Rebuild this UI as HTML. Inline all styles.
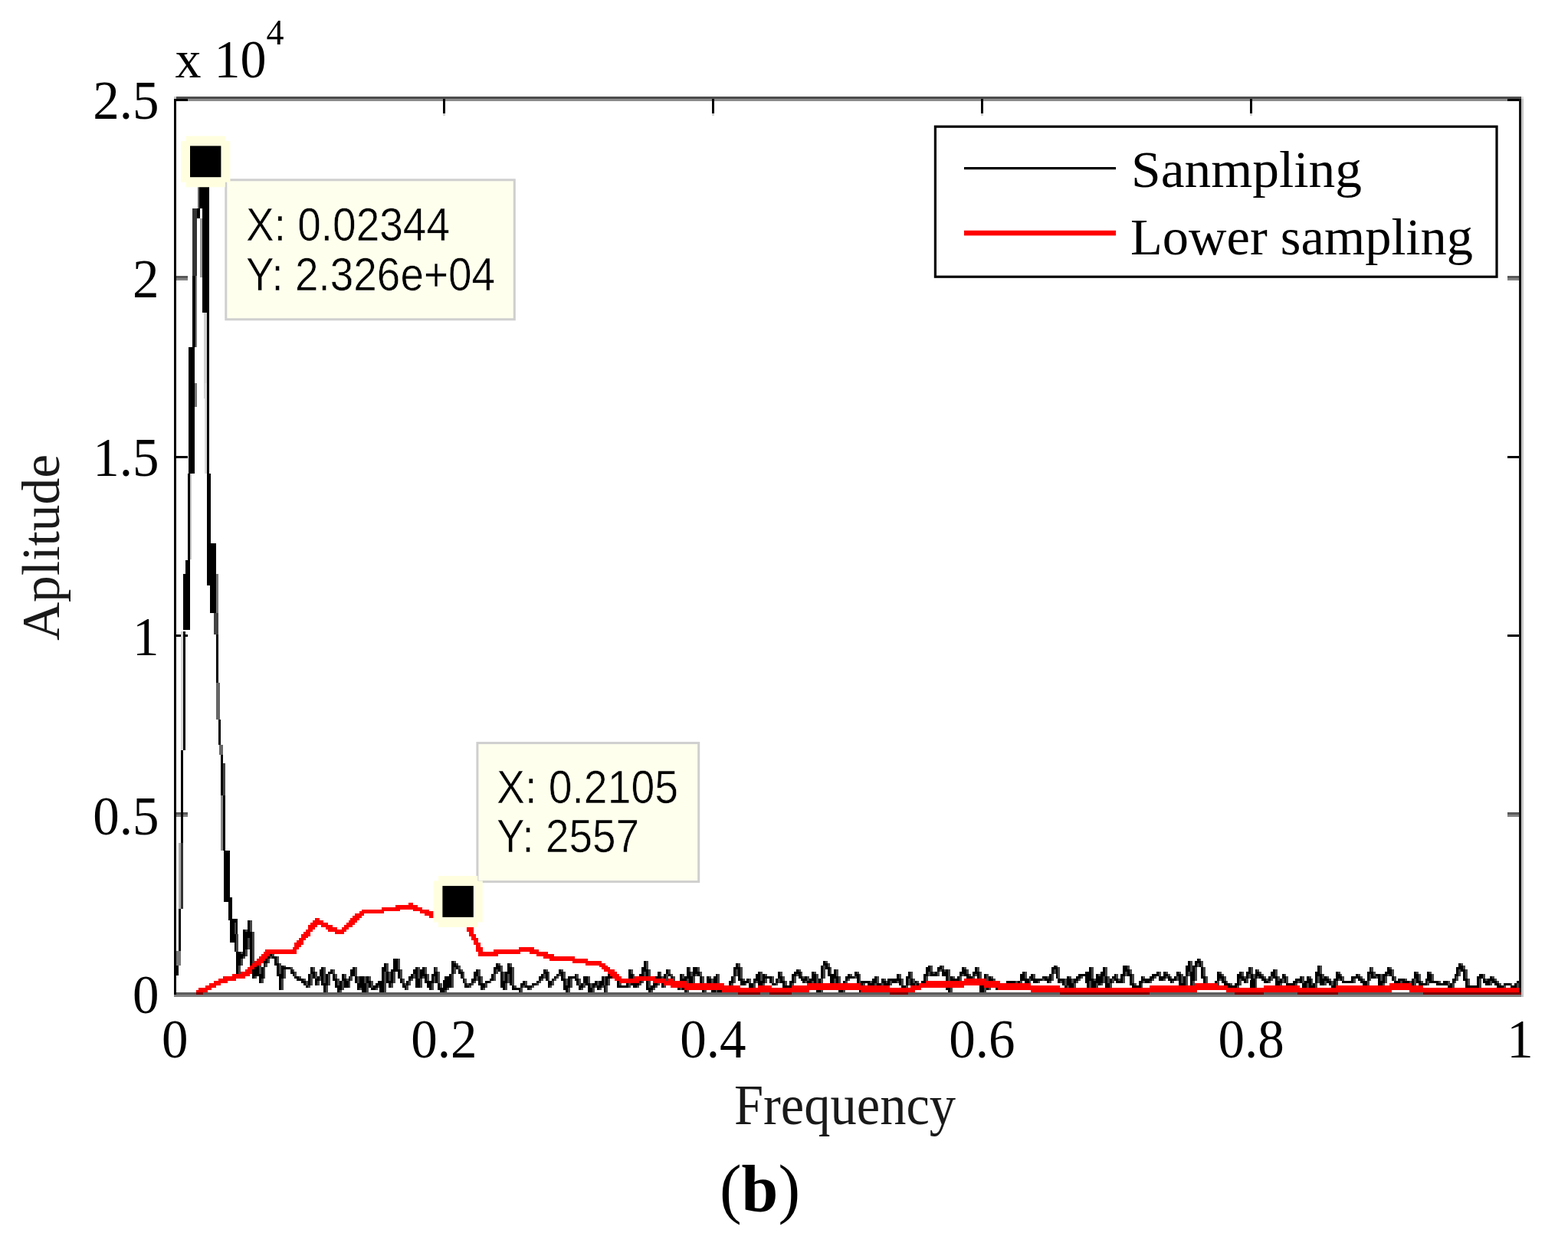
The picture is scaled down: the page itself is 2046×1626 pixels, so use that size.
<!DOCTYPE html>
<html lang="en"><head><meta charset="utf-8"><title>Spectrum (b)</title>
<style>
html,body{margin:0;padding:0;background:#fff;}
body{width:2046px;height:1626px;overflow:hidden;}
svg{display:block;}
.serif{font-family:"Liberation Serif",serif;}
.sans{font-family:"Liberation Sans",sans-serif;}
</style></head><body>
<svg width="2046" height="1626" viewBox="0 0 2046 1626">
<rect x="0" y="0" width="2046" height="1626" fill="#ffffff"/>
<g shape-rendering="crispEdges">
<rect x="577.8" y="132" width="3" height="15.7" fill="#000"/>
<rect x="577.8" y="147.7" width="3" height="2.9" fill="#d0d0d0"/>
<rect x="577.8" y="1279" width="3" height="15.6" fill="#000"/>
<rect x="928.9" y="132" width="3" height="15.7" fill="#000"/>
<rect x="928.9" y="147.7" width="3" height="2.9" fill="#d0d0d0"/>
<rect x="928.9" y="1279" width="3" height="15.6" fill="#000"/>
<rect x="1279.9" y="132" width="3" height="15.7" fill="#000"/>
<rect x="1279.9" y="147.7" width="3" height="2.9" fill="#d0d0d0"/>
<rect x="1279.9" y="1279" width="3" height="15.6" fill="#000"/>
<rect x="1631.0" y="132" width="3" height="15.7" fill="#000"/>
<rect x="1631.0" y="147.7" width="3" height="2.9" fill="#d0d0d0"/>
<rect x="1631.0" y="1279" width="3" height="15.6" fill="#000"/>
<rect x="230" y="360" width="15" height="3" fill="#595959"/>
<rect x="230" y="363" width="15" height="3" fill="#838383"/>
<rect x="1967" y="360" width="15" height="3" fill="#595959"/>
<rect x="1967" y="363" width="15" height="3" fill="#838383"/>
<rect x="230" y="595" width="15" height="3" fill="#000"/>
<rect x="1967" y="595" width="15" height="3" fill="#000"/>
<rect x="230" y="828" width="15" height="3" fill="#000"/>
<rect x="1967" y="828" width="15" height="3" fill="#000"/>
<rect x="230" y="1060" width="15" height="3" fill="#595959"/>
<rect x="230" y="1063" width="15" height="3" fill="#838383"/>
<rect x="1967" y="1060" width="15" height="3" fill="#595959"/>
<rect x="1967" y="1063" width="15" height="3" fill="#838383"/>
</g>
<g shape-rendering="crispEdges">
<rect x="229.2" y="1259.9" width="3.7" height="13.1" fill="#000"/>
<rect x="230.1" y="1241.4" width="5.6" height="18.6" fill="#777"/>
<rect x="232.9" y="1186.0" width="2.8" height="55.4" fill="#000"/>
<rect x="233.0" y="1100.3" width="3.0" height="85.9" fill="#aaaaaa"/>
<rect x="236.0" y="1100.3" width="3.0" height="85.9" fill="#333"/>
<rect x="236.0" y="979.0" width="3.0" height="121.3" fill="#000"/>
<rect x="238.8" y="824.0" width="3.0" height="155.0" fill="#000"/>
<rect x="235.8" y="824.0" width="3.0" height="155.0" fill="#d8d8d8"/>
<rect x="239.4" y="749.0" width="8.3" height="73.4" fill="#000"/>
<rect x="242.1" y="730.6" width="5.6" height="18.4" fill="#000"/>
<rect x="245.3" y="618.0" width="2.7" height="112.6" fill="#000"/>
<rect x="248.0" y="618.0" width="2.4" height="112.0" fill="#c8c8c8"/>
<rect x="245.8" y="452.5" width="8.3" height="165.5" fill="#000"/>
<rect x="254.1" y="500.0" width="2.8" height="31.0" fill="#777"/>
<rect x="251.4" y="360.0" width="3.1" height="92.5" fill="#000"/>
<rect x="254.5" y="360.0" width="2.4" height="92.5" fill="#777"/>
<rect x="251.4" y="271.7" width="5.5" height="88.3" fill="#333"/>
<rect x="256.9" y="271.7" width="3.7" height="12.9" fill="#000"/>
<rect x="260.6" y="284.6" width="3.3" height="77.4" fill="#999"/>
<rect x="259.7" y="243.0" width="12.9" height="28.7" fill="#000"/>
<rect x="263.9" y="271.7" width="8.7" height="136.5" fill="#000"/>
<rect x="257.6" y="243.0" width="2.6" height="28.7" fill="#666"/>
<rect x="269.8" y="408.0" width="2.8" height="112.0" fill="#000"/>
<rect x="266.2" y="408.0" width="3.6" height="112.0" fill="#d0d0d0"/>
<rect x="269.8" y="500.0" width="3.3" height="118.0" fill="#000"/>
<rect x="267.0" y="500.0" width="2.8" height="118.0" fill="#d8d8d8"/>
<rect x="269.8" y="618.0" width="5.6" height="90.5" fill="#000"/>
<rect x="269.8" y="708.5" width="12.0" height="55.3" fill="#000"/>
<rect x="273.5" y="763.8" width="8.3" height="36.5" fill="#000"/>
<rect x="281.8" y="749.0" width="2.8" height="51.0" fill="#777"/>
<rect x="279.0" y="800.0" width="5.6" height="28.0" fill="#444"/>
<rect x="281.8" y="828.0" width="2.8" height="62.7" fill="#000"/>
<rect x="282.2" y="890.7" width="5.1" height="48.0" fill="#666"/>
<rect x="284.9" y="938.7" width="3.0" height="33.2" fill="#000"/>
<rect x="285.5" y="971.9" width="5.0" height="12.9" fill="#666"/>
<rect x="288.3" y="984.8" width="2.9" height="53.5" fill="#000"/>
<rect x="291.2" y="996.0" width="2.6" height="42.3" fill="#444"/>
<rect x="288.3" y="1038.3" width="2.9" height="71.7" fill="#888"/>
<rect x="291.2" y="1038.3" width="3.0" height="71.7" fill="#000"/>
<rect x="292.0" y="1110.4" width="8.3" height="66.4" fill="#000"/>
<rect x="297.5" y="1171.0" width="5.5" height="29.8" fill="#000"/>
<rect x="300.3" y="1199.0" width="9.2" height="31.0" fill="#000"/>
</g>
<path fill="#454545" shape-rendering="crispEdges" d="M306 1204h2v15h-2zM308 1219h3v23h-3zM311 1260h3v11h-3zM314 1242h3v3h-3zM314 1251h3v9h-3zM317 1248h3v3h-3zM320 1213h3v3h-3zM320 1239h3v9h-3zM323 1224h3v15h-3zM326 1201h3v15h-3zM329 1216h3v44h-3zM332 1260h3v2h-3zM332 1274h3v3h-3zM338 1260h3v11h-3zM341 1277h3v6h-3zM344 1262h2v15h-2zM346 1257h3v5h-3zM349 1251h3v6h-3zM352 1248h3v3h-3zM355 1245h3v3h-3zM361 1248h3v9h-3zM364 1257h3v14h-3zM367 1277h3v15h-3zM370 1260h3v2h-3zM370 1265h3v12h-3zM379 1262h3v3h-3zM382 1265h2v3h-2zM384 1268h3v6h-3zM390 1274h3v3h-3zM396 1277h3v3h-3zM399 1280h3v6h-3zM402 1286h3v3h-3zM405 1271h3v15h-3zM408 1262h3v6h-3zM411 1268h3v9h-3zM414 1280h3v6h-3zM417 1274h2v6h-2zM422 1262h3v21h-3zM425 1286h3v12h-3zM428 1271h3v15h-3zM434 1265h3v6h-3zM437 1271h3v6h-3zM440 1277h3v9h-3zM443 1292h3v3h-3zM446 1280h3v12h-3zM449 1271h3v6h-3zM452 1277h3v3h-3zM455 1280h2v9h-2zM457 1274h3v6h-3zM463 1262h3v12h-3zM466 1274h3v9h-3zM469 1289h3v3h-3zM475 1274h3v9h-3zM478 1283h3v15h-3zM481 1274h3v6h-3zM484 1280h3v9h-3zM490 1289h3v3h-3zM493 1286h2v3h-2zM498 1295h3v3h-3zM501 1268h3v27h-3zM504 1257h3v11h-3zM507 1268h3v12h-3zM510 1283h3v6h-3zM513 1268h3v15h-3zM519 1251h3v14h-3zM522 1265h3v12h-3zM525 1277h3v6h-3zM528 1283h2v3h-2zM530 1286h3v6h-3zM533 1280h3v6h-3zM536 1277h3v3h-3zM539 1271h3v6h-3zM545 1262h3v15h-3zM548 1277h3v12h-3zM551 1274h3v3h-3zM554 1262h3v9h-3zM557 1271h3v9h-3zM563 1283h3v9h-3zM566 1274h2v9h-2zM568 1262h3v6h-3zM571 1268h3v15h-3zM574 1283h3v6h-3zM580 1292h3v6h-3zM583 1289h3v3h-3zM589 1271h3v18h-3zM592 1254h3v3h-3zM592 1262h3v9h-3zM595 1257h3v3h-3zM598 1260h3v5h-3zM601 1265h3v3h-3zM604 1268h2v9h-2zM606 1277h3v6h-3zM609 1283h3v3h-3zM612 1286h3v3h-3zM615 1283h3v3h-3zM618 1280h3v3h-3zM621 1274h3v6h-3zM624 1265h3v9h-3zM627 1274h3v9h-3zM630 1289h3v3h-3zM633 1283h3v6h-3zM639 1280h2v3h-2zM644 1271h3v9h-3zM647 1265h3v6h-3zM650 1257h3v3h-3zM653 1260h3v8h-3zM656 1268h3v12h-3zM659 1283h3v9h-3zM662 1271h3v12h-3zM665 1257h3v5h-3zM668 1262h3v24h-3zM671 1286h3v3h-3zM679 1289h3v6h-3zM682 1286h3v3h-3zM685 1280h3v6h-3zM691 1289h3v3h-3zM694 1286h3v3h-3zM700 1283h3v3h-3zM703 1280h3v3h-3zM706 1277h3v3h-3zM709 1271h3v6h-3zM712 1265h3v3h-3zM715 1268h2v12h-2zM717 1286h3v3h-3zM720 1280h3v6h-3zM723 1277h3v3h-3zM726 1274h3v3h-3zM729 1271h3v3h-3zM732 1265h3v3h-3zM735 1268h3v9h-3zM738 1277h3v9h-3zM741 1289h3v9h-3zM744 1277h3v12h-3zM752 1271h3v6h-3zM755 1277h3v9h-3zM758 1289h3v3h-3zM761 1283h3v6h-3zM767 1274h3v9h-3zM770 1283h3v6h-3zM770 1295h3v3h-3zM773 1289h3v6h-3zM776 1286h3v3h-3zM779 1280h3v6h-3zM782 1289h3v3h-3zM785 1286h3v3h-3zM788 1274h2v12h-2zM790 1286h3v9h-3zM793 1277h3v9h-3zM796 1271h3v3h-3zM808 1274h3v12h-3zM820 1277h3v12h-3zM823 1265h3v6h-3zM826 1271h2v12h-2zM831 1286h3v3h-3zM834 1283h3v3h-3zM837 1274h3v9h-3zM840 1268h3v6h-3zM843 1254h3v11h-3zM846 1265h3v24h-3zM849 1292h3v3h-3zM852 1289h3v3h-3zM855 1286h3v3h-3zM858 1277h3v9h-3zM861 1268h2v6h-2zM863 1274h3v9h-3zM866 1283h3v6h-3zM869 1271h3v12h-3zM872 1265h3v6h-3zM875 1271h3v3h-3zM878 1274h3v6h-3zM881 1280h3v6h-3zM887 1283h3v9h-3zM890 1271h3v6h-3zM896 1277h3v18h-3zM899 1262h2v6h-2zM901 1268h3v6h-3zM904 1274h3v9h-3zM907 1271h3v3h-3zM910 1262h3v6h-3zM913 1268h3v6h-3zM916 1274h3v12h-3zM919 1292h3v3h-3zM922 1283h3v9h-3zM925 1274h3v3h-3zM928 1277h3v12h-3zM931 1295h3v3h-3zM934 1286h2v9h-2zM936 1271h3v12h-3zM939 1283h3v9h-3zM951 1289h3v6h-3zM954 1283h3v6h-3zM957 1274h3v9h-3zM960 1265h3v9h-3zM963 1257h3v5h-3zM966 1262h3v15h-3zM969 1277h3v3h-3zM972 1283h2v3h-2zM977 1277h3v6h-3zM983 1283h3v6h-3zM986 1280h3v3h-3zM992 1268h3v12h-3zM995 1283h3v15h-3zM998 1271h3v3h-3zM998 1277h3v6h-3zM1007 1274h3v9h-3zM1012 1283h3v3h-3zM1015 1277h3v6h-3zM1018 1268h3v6h-3zM1021 1274h3v6h-3zM1024 1280h3v6h-3zM1033 1283h3v6h-3zM1036 1274h3v9h-3zM1039 1271h3v3h-3zM1042 1265h3v3h-3zM1045 1268h2v6h-2zM1047 1274h3v3h-3zM1050 1280h3v3h-3zM1053 1274h3v6h-3zM1059 1280h3v6h-3zM1062 1268h3v3h-3zM1065 1271h3v12h-3zM1071 1277h3v21h-3zM1074 1260h3v17h-3zM1077 1254h3v3h-3zM1080 1257h3v5h-3zM1083 1262h2v9h-2zM1088 1277h3v6h-3zM1091 1265h3v9h-3zM1094 1274h3v12h-3zM1097 1295h3v3h-3zM1100 1289h3v6h-3zM1103 1280h3v9h-3zM1106 1277h3v3h-3zM1109 1271h3v3h-3zM1115 1274h3v3h-3zM1118 1268h3v3h-3zM1121 1271h2v15h-2zM1123 1289h3v6h-3zM1126 1283h3v6h-3zM1135 1280h3v3h-3zM1141 1283h3v3h-3zM1144 1274h3v9h-3zM1150 1283h3v9h-3zM1153 1277h3v3h-3zM1156 1280h2v3h-2zM1158 1286h3v3h-3zM1161 1280h3v6h-3zM1170 1280h3v3h-3zM1173 1271h3v6h-3zM1176 1277h3v9h-3zM1182 1286h3v6h-3zM1185 1277h3v9h-3zM1188 1268h3v9h-3zM1191 1277h3v6h-3zM1194 1283h2v6h-2zM1196 1280h3v3h-3zM1199 1283h3v3h-3zM1205 1283h3v6h-3zM1208 1274h3v9h-3zM1211 1268h3v6h-3zM1214 1260h3v8h-3zM1217 1268h3v3h-3zM1223 1268h3v6h-3zM1226 1265h3v3h-3zM1229 1260h3v5h-3zM1232 1265h2v3h-2zM1237 1265h3v18h-3zM1240 1286h3v12h-3zM1243 1274h3v3h-3zM1243 1280h3v6h-3zM1252 1274h3v6h-3zM1255 1271h3v3h-3zM1258 1262h3v3h-3zM1261 1265h3v6h-3zM1264 1271h3v3h-3zM1269 1274h3v3h-3zM1272 1271h3v3h-3zM1275 1262h3v6h-3zM1278 1268h3v12h-3zM1281 1295h3v3h-3zM1284 1289h3v6h-3zM1287 1271h3v12h-3zM1290 1286h3v6h-3zM1293 1274h3v3h-3zM1296 1277h3v6h-3zM1299 1283h3v3h-3zM1302 1286h3v3h-3zM1310 1289h3v3h-3zM1313 1286h3v3h-3zM1316 1283h3v3h-3zM1325 1280h3v3h-3zM1331 1280h3v6h-3zM1337 1268h3v9h-3zM1343 1277h2v6h-2zM1348 1271h3v6h-3zM1354 1280h3v3h-3zM1360 1277h3v3h-3zM1366 1274h3v3h-3zM1369 1280h3v3h-3zM1372 1271h3v9h-3zM1375 1265h3v6h-3zM1378 1260h2v2h-2zM1380 1262h3v15h-3zM1383 1280h3v3h-3zM1389 1277h3v9h-3zM1392 1286h3v6h-3zM1395 1274h3v3h-3zM1398 1277h3v6h-3zM1398 1289h3v3h-3zM1401 1283h3v6h-3zM1404 1280h3v3h-3zM1407 1277h3v3h-3zM1410 1274h3v3h-3zM1421 1280h3v9h-3zM1424 1262h3v15h-3zM1427 1277h3v3h-3zM1427 1289h3v3h-3zM1430 1283h3v6h-3zM1433 1271h3v3h-3zM1436 1283h3v3h-3zM1439 1274h3v9h-3zM1442 1262h3v12h-3zM1445 1274h3v9h-3zM1448 1283h3v6h-3zM1451 1277h3v6h-3zM1456 1271h3v6h-3zM1459 1277h3v3h-3zM1465 1274h3v9h-3zM1468 1268h3v6h-3zM1471 1260h3v5h-3zM1474 1265h3v6h-3zM1477 1271h3v12h-3zM1480 1283h3v3h-3zM1489 1283h2v6h-2zM1491 1274h3v3h-3zM1491 1280h3v3h-3zM1500 1280h3v3h-3zM1503 1277h3v3h-3zM1506 1274h3v3h-3zM1512 1268h3v6h-3zM1518 1277h3v3h-3zM1521 1268h3v3h-3zM1521 1274h3v3h-3zM1524 1271h3v3h-3zM1527 1274h2v3h-2zM1529 1280h3v3h-3zM1535 1274h3v6h-3zM1538 1268h3v3h-3zM1541 1271h3v12h-3zM1544 1286h3v3h-3zM1547 1274h3v12h-3zM1550 1268h3v6h-3zM1553 1254h3v14h-3zM1556 1280h3v6h-3zM1559 1262h3v18h-3zM1562 1257h3v5h-3zM1565 1251h2v3h-2zM1567 1254h3v8h-3zM1570 1262h3v12h-3zM1573 1274h3v9h-3zM1576 1283h3v3h-3zM1588 1280h3v9h-3zM1591 1268h3v3h-3zM1591 1277h3v3h-3zM1594 1271h3v3h-3zM1597 1274h3v6h-3zM1600 1280h2v3h-2zM1605 1283h3v3h-3zM1614 1286h3v6h-3zM1617 1277h3v9h-3zM1620 1268h3v6h-3zM1623 1274h3v3h-3zM1626 1277h3v6h-3zM1629 1271h3v6h-3zM1632 1262h3v9h-3zM1635 1271h3v6h-3zM1638 1277h2v12h-2zM1640 1265h3v3h-3zM1640 1274h3v3h-3zM1643 1268h3v3h-3zM1646 1271h3v3h-3zM1649 1274h3v3h-3zM1652 1277h3v3h-3zM1655 1280h3v3h-3zM1658 1274h3v6h-3zM1664 1265h3v9h-3zM1667 1274h3v6h-3zM1670 1283h3v3h-3zM1673 1277h3v6h-3zM1676 1271h2v3h-2zM1678 1274h3v9h-3zM1684 1286h3v3h-3zM1690 1283h3v3h-3zM1693 1280h3v3h-3zM1699 1274h3v9h-3zM1702 1289h3v3h-3zM1705 1283h3v6h-3zM1708 1274h3v3h-3zM1711 1277h2v9h-2zM1713 1289h3v3h-3zM1716 1283h3v6h-3zM1719 1274h3v9h-3zM1722 1260h3v11h-3zM1725 1271h3v6h-3zM1728 1280h3v6h-3zM1731 1274h3v3h-3zM1734 1277h3v3h-3zM1737 1280h3v6h-3zM1743 1280h3v9h-3zM1746 1268h3v3h-3zM1746 1277h3v3h-3zM1749 1271h2v3h-2zM1751 1274h3v6h-3zM1766 1277h3v6h-3zM1772 1271h3v3h-3zM1775 1274h3v3h-3zM1778 1277h3v3h-3zM1784 1280h3v6h-3zM1787 1271h2v9h-2zM1789 1262h3v6h-3zM1792 1268h3v6h-3zM1795 1274h3v3h-3zM1801 1271h3v9h-3zM1804 1283h3v6h-3zM1807 1274h3v9h-3zM1810 1271h3v3h-3zM1813 1262h3v3h-3zM1816 1265h3v9h-3zM1819 1274h3v6h-3zM1827 1280h3v3h-3zM1833 1277h3v3h-3zM1839 1280h3v3h-3zM1845 1277h3v9h-3zM1848 1268h3v3h-3zM1851 1271h3v9h-3zM1854 1280h3v3h-3zM1862 1280h3v6h-3zM1865 1268h3v3h-3zM1868 1271h3v9h-3zM1877 1280h3v3h-3zM1889 1280h3v6h-3zM1892 1289h3v3h-3zM1895 1283h3v6h-3zM1898 1280h2v3h-2zM1900 1274h3v6h-3zM1903 1265h3v9h-3zM1906 1257h3v3h-3zM1909 1260h3v5h-3zM1912 1265h3v12h-3zM1915 1277h3v9h-3zM1930 1277h3v12h-3zM1935 1271h3v6h-3zM1938 1277h3v3h-3zM1944 1280h3v6h-3zM1947 1274h3v3h-3zM1950 1277h3v3h-3zM1953 1280h3v3h-3zM1956 1283h3v3h-3zM1962 1286h3v3h-3zM1971 1283h2v3h-2zM1979 1283h3v6h-3zM1985 1280h3v3h-3z"/>
<path fill="#000" shape-rendering="crispEdges" d="M303 1204h3v18h-3zM306 1219h2v23h-2zM308 1242h3v29h-3zM311 1242h3v18h-3zM314 1245h3v6h-3zM317 1213h3v35h-3zM320 1216h3v23h-3zM323 1201h3v23h-3zM326 1216h3v44h-3zM329 1260h3v17h-3zM332 1262h3v12h-3zM335 1260h3v14h-3zM338 1271h3v12h-3zM341 1262h3v15h-3zM344 1254h2v8h-2zM346 1251h3v6h-3zM349 1245h3v6h-3zM352 1245h3v3h-3zM355 1248h3v3h-3zM358 1248h3v12h-3zM361 1257h3v17h-3zM364 1271h3v21h-3zM367 1260h3v17h-3zM370 1262h3v3h-3zM373 1262h3v3h-3zM376 1262h3v3h-3zM379 1265h3v6h-3zM382 1268h2v6h-2zM384 1274h3v3h-3zM387 1274h3v6h-3zM390 1277h3v3h-3zM393 1277h3v6h-3zM396 1280h3v6h-3zM399 1286h3v3h-3zM402 1271h3v15h-3zM405 1262h3v9h-3zM408 1268h3v9h-3zM411 1277h3v9h-3zM414 1274h3v6h-3zM417 1265h2v9h-2zM419 1262h3v24h-3zM422 1283h3v15h-3zM425 1271h3v15h-3zM428 1268h3v3h-3zM431 1265h3v6h-3zM434 1271h3v9h-3zM437 1277h3v12h-3zM440 1286h3v9h-3zM443 1280h3v12h-3zM446 1271h3v9h-3zM449 1277h3v12h-3zM452 1280h3v9h-3zM455 1274h2v6h-2zM457 1265h3v9h-3zM460 1262h3v12h-3zM463 1274h3v9h-3zM466 1283h3v9h-3zM469 1274h3v15h-3zM472 1274h3v21h-3zM475 1283h3v15h-3zM478 1274h3v9h-3zM481 1280h3v9h-3zM484 1289h3v3h-3zM487 1286h3v6h-3zM490 1283h3v6h-3zM493 1280h2v6h-2zM495 1280h3v18h-3zM498 1262h3v33h-3zM501 1257h3v11h-3zM504 1268h3v15h-3zM507 1280h3v9h-3zM510 1265h3v18h-3zM513 1251h3v17h-3zM516 1251h3v17h-3zM519 1265h3v12h-3zM522 1277h3v6h-3zM525 1283h3v6h-3zM528 1286h2v6h-2zM530 1280h3v6h-3zM533 1274h3v6h-3zM536 1271h3v6h-3zM539 1265h3v6h-3zM542 1262h3v27h-3zM545 1277h3v12h-3zM548 1265h3v12h-3zM551 1262h3v12h-3zM554 1271h3v12h-3zM557 1280h3v9h-3zM560 1280h3v12h-3zM563 1271h3v12h-3zM566 1262h2v12h-2zM568 1268h3v15h-3zM571 1283h3v9h-3zM574 1289h3v6h-3zM577 1289h3v9h-3zM580 1274h3v18h-3zM583 1274h3v15h-3zM586 1271h3v18h-3zM589 1254h3v17h-3zM592 1257h3v5h-3zM595 1260h3v5h-3zM598 1265h3v6h-3zM601 1268h3v9h-3zM604 1277h2v6h-2zM606 1283h3v6h-3zM609 1286h3v3h-3zM612 1283h3v3h-3zM615 1277h3v6h-3zM618 1268h3v12h-3zM621 1265h3v9h-3zM624 1274h3v12h-3zM627 1283h3v9h-3zM630 1283h3v6h-3zM633 1280h3v3h-3zM636 1280h3v3h-3zM639 1277h2v3h-2zM641 1271h3v9h-3zM644 1262h3v9h-3zM647 1257h3v8h-3zM650 1260h3v8h-3zM653 1268h3v21h-3zM656 1280h3v12h-3zM659 1268h3v15h-3zM662 1257h3v14h-3zM665 1262h3v24h-3zM668 1286h3v6h-3zM671 1289h3v3h-3zM674 1289h3v3h-3zM677 1289h2v6h-2zM679 1283h3v6h-3zM682 1280h3v6h-3zM685 1286h3v3h-3zM688 1286h3v6h-3zM691 1286h3v3h-3zM694 1283h3v3h-3zM697 1283h3v3h-3zM700 1280h3v3h-3zM703 1274h3v6h-3zM706 1271h3v6h-3zM709 1265h3v6h-3zM712 1268h3v12h-3zM715 1280h2v9h-2zM717 1280h3v6h-3zM720 1277h3v3h-3zM723 1274h3v3h-3zM726 1271h3v3h-3zM729 1265h3v6h-3zM732 1268h3v12h-3zM735 1277h3v15h-3zM738 1286h3v12h-3zM741 1274h3v15h-3zM744 1274h3v3h-3zM747 1274h3v3h-3zM750 1271h2v9h-2zM752 1277h3v9h-3zM755 1286h3v6h-3zM758 1283h3v6h-3zM761 1274h3v9h-3zM764 1274h3v12h-3zM767 1283h3v15h-3zM770 1289h3v6h-3zM773 1283h3v6h-3zM776 1280h3v6h-3zM779 1286h3v6h-3zM782 1280h3v9h-3zM785 1274h3v12h-3zM788 1286h2v9h-2zM790 1274h3v12h-3zM793 1271h3v6h-3zM796 1274h3v3h-3zM799 1274h3v3h-3zM802 1274h3v3h-3zM805 1274h3v15h-3zM808 1286h3v3h-3zM811 1286h3v3h-3zM814 1286h3v3h-3zM817 1277h3v12h-3zM820 1265h3v12h-3zM823 1271h3v15h-3zM826 1283h2v6h-2zM828 1283h3v6h-3zM831 1280h3v6h-3zM834 1271h3v12h-3zM837 1262h3v12h-3zM840 1254h3v14h-3zM843 1265h3v27h-3zM846 1289h3v6h-3zM849 1286h3v6h-3zM852 1283h3v6h-3zM855 1274h3v12h-3zM858 1268h3v9h-3zM861 1274h2v9h-2zM863 1283h3v6h-3zM866 1271h3v12h-3zM869 1265h3v6h-3zM872 1271h3v3h-3zM875 1274h3v6h-3zM878 1280h3v6h-3zM881 1286h3v3h-3zM884 1280h3v12h-3zM887 1271h3v12h-3zM890 1277h3v15h-3zM893 1274h3v21h-3zM896 1262h3v15h-3zM899 1268h2v15h-2zM901 1274h3v9h-3zM904 1262h3v12h-3zM907 1262h3v9h-3zM910 1268h3v6h-3zM913 1274h3v12h-3zM916 1286h3v9h-3zM919 1283h3v9h-3zM922 1274h3v9h-3zM925 1277h3v12h-3zM928 1289h3v9h-3zM931 1274h3v21h-3zM934 1271h2v15h-2zM936 1283h3v12h-3zM939 1292h3v3h-3zM942 1292h3v3h-3zM945 1292h3v3h-3zM948 1289h3v6h-3zM951 1280h3v9h-3zM954 1274h3v9h-3zM957 1262h3v12h-3zM960 1257h3v8h-3zM963 1262h3v18h-3zM966 1277h3v9h-3zM969 1280h3v6h-3zM972 1280h2v3h-2zM974 1277h3v6h-3zM977 1283h3v6h-3zM980 1283h3v6h-3zM983 1277h3v6h-3zM986 1271h3v9h-3zM989 1268h3v27h-3zM992 1280h3v18h-3zM995 1271h3v12h-3zM998 1274h3v3h-3zM1001 1274h3v3h-3zM1004 1274h3v9h-3zM1007 1283h3v3h-3zM1010 1283h2v3h-2zM1012 1277h3v6h-3zM1015 1268h3v9h-3zM1018 1274h3v9h-3zM1021 1280h3v9h-3zM1024 1286h3v3h-3zM1027 1286h3v3h-3zM1030 1280h3v9h-3zM1033 1271h3v12h-3zM1036 1268h3v6h-3zM1039 1265h3v6h-3zM1042 1268h3v9h-3zM1045 1274h2v6h-2zM1047 1277h3v6h-3zM1050 1274h3v6h-3zM1053 1280h3v6h-3zM1056 1277h3v9h-3zM1059 1268h3v12h-3zM1062 1271h3v12h-3zM1065 1283h3v12h-3zM1068 1277h3v21h-3zM1071 1260h3v17h-3zM1074 1254h3v6h-3zM1077 1257h3v8h-3zM1080 1262h3v12h-3zM1083 1271h2v12h-2zM1085 1271h3v12h-3zM1088 1265h3v12h-3zM1091 1274h3v15h-3zM1094 1286h3v12h-3zM1097 1286h3v9h-3zM1100 1280h3v9h-3zM1103 1274h3v6h-3zM1106 1271h3v6h-3zM1109 1274h3v3h-3zM1112 1274h3v3h-3zM1115 1268h3v6h-3zM1118 1271h3v18h-3zM1121 1286h2v9h-2zM1123 1280h3v9h-3zM1126 1280h3v3h-3zM1129 1280h3v3h-3zM1132 1280h3v6h-3zM1135 1283h3v3h-3zM1138 1277h3v9h-3zM1141 1274h3v9h-3zM1144 1283h3v6h-3zM1147 1283h3v9h-3zM1150 1277h3v6h-3zM1153 1280h3v9h-3zM1156 1283h2v6h-2zM1158 1277h3v9h-3zM1161 1277h3v3h-3zM1164 1277h3v6h-3zM1167 1277h3v6h-3zM1170 1271h3v9h-3zM1173 1277h3v9h-3zM1176 1286h3v3h-3zM1179 1286h3v6h-3zM1182 1274h3v12h-3zM1185 1268h3v9h-3zM1188 1277h3v9h-3zM1191 1283h3v6h-3zM1194 1280h2v3h-2zM1196 1283h3v6h-3zM1199 1286h3v3h-3zM1202 1280h3v9h-3zM1205 1271h3v12h-3zM1208 1262h3v12h-3zM1211 1260h3v8h-3zM1214 1268h3v6h-3zM1217 1271h3v3h-3zM1220 1268h3v6h-3zM1223 1262h3v6h-3zM1226 1260h3v5h-3zM1229 1265h3v9h-3zM1232 1268h2v6h-2zM1234 1265h3v27h-3zM1237 1283h3v15h-3zM1240 1274h3v12h-3zM1243 1277h3v3h-3zM1246 1277h3v3h-3zM1249 1274h3v6h-3zM1252 1268h3v6h-3zM1255 1262h3v9h-3zM1258 1265h3v9h-3zM1261 1271h3v6h-3zM1264 1274h3v3h-3zM1267 1274h2v3h-2zM1269 1268h3v6h-3zM1272 1262h3v9h-3zM1275 1268h3v12h-3zM1278 1280h3v18h-3zM1281 1277h3v18h-3zM1284 1271h3v18h-3zM1287 1283h3v9h-3zM1290 1274h3v12h-3zM1293 1277h3v9h-3zM1296 1283h3v6h-3zM1299 1286h3v6h-3zM1302 1289h3v3h-3zM1305 1289h2v3h-2zM1307 1286h3v6h-3zM1310 1283h3v6h-3zM1313 1280h3v6h-3zM1316 1280h3v3h-3zM1319 1280h3v3h-3zM1322 1280h3v3h-3zM1325 1283h3v3h-3zM1328 1280h3v6h-3zM1331 1271h3v9h-3zM1334 1268h3v12h-3zM1337 1277h3v6h-3zM1340 1277h3v6h-3zM1343 1274h2v3h-2zM1345 1271h3v9h-3zM1348 1277h3v6h-3zM1351 1277h3v6h-3zM1354 1277h3v3h-3zM1357 1277h3v3h-3zM1360 1274h3v3h-3zM1363 1274h3v6h-3zM1366 1277h3v6h-3zM1369 1271h3v9h-3zM1372 1262h3v9h-3zM1375 1260h3v5h-3zM1378 1262h2v15h-2zM1380 1277h3v6h-3zM1383 1277h3v3h-3zM1386 1277h3v9h-3zM1389 1286h3v6h-3zM1392 1274h3v12h-3zM1395 1277h3v15h-3zM1398 1283h3v6h-3zM1401 1277h3v6h-3zM1404 1274h3v6h-3zM1407 1271h3v6h-3zM1410 1271h3v3h-3zM1413 1271h3v3h-3zM1416 1268h2v15h-2zM1418 1268h3v21h-3zM1421 1262h3v18h-3zM1424 1277h3v15h-3zM1427 1280h3v9h-3zM1430 1271h3v12h-3zM1433 1274h3v12h-3zM1436 1268h3v15h-3zM1439 1262h3v12h-3zM1442 1274h3v15h-3zM1445 1283h3v6h-3zM1448 1277h3v6h-3zM1451 1274h3v3h-3zM1454 1271h2v9h-2zM1456 1277h3v6h-3zM1459 1280h3v3h-3zM1462 1271h3v12h-3zM1465 1260h3v14h-3zM1468 1260h3v8h-3zM1471 1265h3v9h-3zM1474 1271h3v15h-3zM1477 1283h3v6h-3zM1480 1286h3v3h-3zM1483 1286h3v3h-3zM1486 1280h3v9h-3zM1489 1274h2v9h-2zM1491 1277h3v3h-3zM1494 1277h3v6h-3zM1497 1277h3v6h-3zM1500 1274h3v6h-3zM1503 1271h3v6h-3zM1506 1271h3v3h-3zM1509 1268h3v6h-3zM1512 1274h3v6h-3zM1515 1274h3v6h-3zM1518 1268h3v9h-3zM1521 1271h3v3h-3zM1524 1274h3v6h-3zM1527 1277h2v6h-2zM1529 1277h3v3h-3zM1532 1274h3v6h-3zM1535 1268h3v6h-3zM1538 1271h3v15h-3zM1541 1283h3v6h-3zM1544 1274h3v12h-3zM1547 1260h3v14h-3zM1550 1254h3v14h-3zM1553 1268h3v18h-3zM1556 1260h3v20h-3zM1559 1254h3v8h-3zM1562 1251h3v6h-3zM1565 1254h2v8h-2zM1567 1262h3v15h-3zM1570 1274h3v9h-3zM1573 1283h3v3h-3zM1576 1286h3v3h-3zM1579 1286h3v3h-3zM1582 1286h3v3h-3zM1585 1280h3v9h-3zM1588 1268h3v12h-3zM1591 1271h3v6h-3zM1594 1274h3v9h-3zM1597 1280h3v6h-3zM1600 1283h2v3h-2zM1602 1283h3v6h-3zM1605 1286h3v3h-3zM1608 1286h3v6h-3zM1611 1283h3v9h-3zM1614 1271h3v15h-3zM1617 1268h3v9h-3zM1620 1274h3v6h-3zM1623 1277h3v6h-3zM1626 1268h3v9h-3zM1629 1262h3v9h-3zM1632 1271h3v18h-3zM1635 1277h3v12h-3zM1638 1265h2v12h-2zM1640 1268h3v6h-3zM1643 1271h3v6h-3zM1646 1274h3v6h-3zM1649 1277h3v6h-3zM1652 1280h3v3h-3zM1655 1274h3v6h-3zM1658 1268h3v6h-3zM1661 1265h3v12h-3zM1664 1274h3v12h-3zM1667 1280h3v6h-3zM1670 1277h3v6h-3zM1673 1271h3v6h-3zM1676 1274h2v9h-2zM1678 1283h3v6h-3zM1681 1283h3v6h-3zM1684 1283h3v3h-3zM1687 1280h3v6h-3zM1690 1277h3v6h-3zM1693 1277h3v3h-3zM1696 1274h3v9h-3zM1699 1283h3v9h-3zM1702 1280h3v9h-3zM1705 1274h3v9h-3zM1708 1277h3v12h-3zM1711 1286h2v6h-2zM1713 1283h3v6h-3zM1716 1268h3v15h-3zM1719 1260h3v14h-3zM1722 1271h3v15h-3zM1725 1277h3v9h-3zM1728 1274h3v6h-3zM1731 1277h3v6h-3zM1734 1280h3v6h-3zM1737 1286h3v3h-3zM1740 1277h3v12h-3zM1743 1268h3v12h-3zM1746 1271h3v6h-3zM1749 1274h2v6h-2zM1751 1280h3v3h-3zM1754 1280h3v3h-3zM1757 1280h3v3h-3zM1760 1280h3v3h-3zM1763 1274h3v9h-3zM1766 1274h3v3h-3zM1769 1271h3v6h-3zM1772 1274h3v6h-3zM1775 1277h3v6h-3zM1778 1280h3v6h-3zM1781 1280h3v6h-3zM1784 1268h3v12h-3zM1787 1262h2v9h-2zM1789 1268h3v9h-3zM1792 1274h3v3h-3zM1795 1271h3v3h-3zM1798 1271h3v15h-3zM1801 1280h3v9h-3zM1804 1271h3v12h-3zM1807 1268h3v6h-3zM1810 1262h3v9h-3zM1813 1265h3v9h-3zM1816 1274h3v6h-3zM1819 1280h3v3h-3zM1822 1280h2v3h-2zM1824 1277h3v6h-3zM1827 1277h3v3h-3zM1830 1277h3v6h-3zM1833 1280h3v3h-3zM1836 1280h3v6h-3zM1839 1283h3v3h-3zM1842 1277h3v9h-3zM1845 1268h3v9h-3zM1848 1271h3v12h-3zM1851 1280h3v6h-3zM1854 1283h3v3h-3zM1857 1283h3v3h-3zM1860 1277h2v9h-2zM1862 1268h3v12h-3zM1865 1271h3v12h-3zM1868 1280h3v3h-3zM1871 1280h3v3h-3zM1874 1280h3v6h-3zM1877 1283h3v3h-3zM1880 1283h3v3h-3zM1883 1280h3v6h-3zM1886 1280h3v6h-3zM1889 1286h3v6h-3zM1892 1283h3v6h-3zM1895 1277h3v6h-3zM1898 1271h2v9h-2zM1900 1262h3v12h-3zM1903 1257h3v8h-3zM1906 1260h3v8h-3zM1909 1265h3v15h-3zM1912 1277h3v12h-3zM1915 1286h3v3h-3zM1918 1286h3v3h-3zM1921 1286h3v3h-3zM1924 1286h3v3h-3zM1927 1274h3v15h-3zM1930 1271h3v6h-3zM1933 1271h2v6h-2zM1935 1277h3v6h-3zM1938 1280h3v6h-3zM1941 1277h3v9h-3zM1944 1274h3v6h-3zM1947 1277h3v6h-3zM1950 1280h3v6h-3zM1953 1283h3v6h-3zM1956 1286h3v3h-3zM1959 1286h3v3h-3zM1962 1283h3v3h-3zM1965 1283h3v3h-3zM1968 1283h3v3h-3zM1971 1286h2v3h-2zM1973 1286h3v3h-3zM1976 1283h3v6h-3zM1979 1280h3v3h-3zM1982 1280h3v3h-3z"/>
<path fill="#ff0000" shape-rendering="crispEdges" d="M256 1292h3v3h-3zM259 1289h3v6h-3zM262 1289h3v6h-3zM265 1289h3v6h-3zM268 1286h3v9h-3zM271 1286h2v6h-2zM273 1283h3v9h-3zM276 1283h3v6h-3zM279 1280h3v9h-3zM282 1280h3v6h-3zM285 1277h3v9h-3zM288 1277h3v6h-3zM291 1274h3v9h-3zM294 1274h3v9h-3zM297 1274h3v6h-3zM300 1274h3v6h-3zM303 1271h3v9h-3zM306 1271h2v9h-2zM308 1271h3v6h-3zM311 1271h3v6h-3zM314 1268h3v9h-3zM317 1268h3v9h-3zM320 1265h3v9h-3zM323 1262h3v12h-3zM326 1260h3v11h-3zM329 1257h3v8h-3zM332 1254h3v8h-3zM335 1251h3v9h-3zM338 1248h3v12h-3zM341 1245h3v12h-3zM344 1242h2v12h-2zM346 1239h3v12h-3zM349 1239h3v9h-3zM352 1239h3v6h-3zM355 1239h3v6h-3zM358 1239h3v6h-3zM361 1239h3v6h-3zM364 1239h3v6h-3zM367 1239h3v6h-3zM370 1239h3v6h-3zM373 1239h3v6h-3zM376 1239h3v6h-3zM379 1239h3v6h-3zM382 1236h2v9h-2zM384 1230h3v15h-3zM387 1227h3v12h-3zM390 1224h3v12h-3zM393 1219h3v14h-3zM396 1216h3v11h-3zM399 1213h3v11h-3zM402 1207h3v15h-3zM405 1204h3v12h-3zM408 1201h3v12h-3zM411 1198h3v12h-3zM414 1198h3v9h-3zM417 1201h2v6h-2zM419 1201h3v9h-3zM422 1204h3v6h-3zM425 1204h3v9h-3zM428 1207h3v9h-3zM431 1207h3v9h-3zM434 1210h3v6h-3zM437 1210h3v9h-3zM440 1213h3v6h-3zM443 1213h3v6h-3zM446 1210h3v9h-3zM449 1207h3v9h-3zM452 1204h3v9h-3zM455 1201h2v9h-2zM457 1198h3v12h-3zM460 1195h3v12h-3zM463 1192h3v12h-3zM466 1192h3v9h-3zM469 1189h3v9h-3zM472 1187h3v8h-3zM475 1187h3v5h-3zM478 1187h3v5h-3zM481 1187h3v5h-3zM484 1187h3v5h-3zM487 1187h3v5h-3zM490 1187h3v5h-3zM493 1187h2v5h-2zM495 1187h3v5h-3zM498 1184h3v8h-3zM501 1184h3v5h-3zM504 1184h3v5h-3zM507 1184h3v5h-3zM510 1184h3v5h-3zM513 1184h3v5h-3zM516 1181h3v8h-3zM519 1181h3v8h-3zM522 1181h3v6h-3zM525 1181h3v6h-3zM528 1181h2v6h-2zM530 1181h3v6h-3zM533 1178h3v9h-3zM536 1178h3v9h-3zM539 1181h3v8h-3zM542 1181h3v8h-3zM545 1184h3v5h-3zM548 1184h3v8h-3zM551 1187h3v5h-3zM554 1187h3v8h-3zM557 1187h3v8h-3zM560 1189h3v9h-3zM563 1189h3v9h-3zM566 1189h2v9h-2zM568 1189h3v9h-3zM571 1187h3v8h-3zM574 1187h3v8h-3zM577 1184h3v8h-3zM580 1184h3v8h-3zM583 1181h3v8h-3zM586 1181h3v8h-3zM589 1178h3v9h-3zM592 1175h3v9h-3zM595 1175h3v9h-3zM598 1175h3v14h-3zM601 1181h3v14h-3zM604 1187h2v14h-2zM606 1192h3v18h-3zM609 1198h3v18h-3zM612 1204h3v18h-3zM615 1210h3v17h-3zM618 1219h3v14h-3zM621 1224h3v18h-3zM624 1230h3v18h-3zM627 1236h3v12h-3zM630 1242h3v6h-3zM633 1242h3v6h-3zM636 1242h3v6h-3zM639 1242h2v6h-2zM641 1242h3v6h-3zM644 1239h3v9h-3zM647 1239h3v9h-3zM650 1239h3v6h-3zM653 1239h3v6h-3zM656 1239h3v6h-3zM659 1239h3v6h-3zM662 1239h3v6h-3zM665 1239h3v6h-3zM668 1239h3v6h-3zM671 1239h3v6h-3zM674 1239h3v6h-3zM677 1236h2v9h-2zM679 1236h3v6h-3zM682 1236h3v6h-3zM685 1236h3v6h-3zM688 1236h3v6h-3zM691 1236h3v9h-3zM694 1236h3v9h-3zM697 1239h3v6h-3zM700 1239h3v9h-3zM703 1242h3v6h-3zM706 1242h3v6h-3zM709 1242h3v9h-3zM712 1242h3v9h-3zM715 1245h2v6h-2zM717 1245h3v9h-3zM720 1245h3v9h-3zM723 1248h3v6h-3zM726 1248h3v6h-3zM729 1248h3v6h-3zM732 1248h3v6h-3zM735 1248h3v6h-3zM738 1248h3v6h-3zM741 1248h3v6h-3zM744 1248h3v6h-3zM747 1248h3v9h-3zM750 1251h2v6h-2zM752 1251h3v6h-3zM755 1251h3v6h-3zM758 1251h3v6h-3zM761 1251h3v6h-3zM764 1251h3v9h-3zM767 1254h3v6h-3zM770 1254h3v6h-3zM773 1254h3v6h-3zM776 1254h3v6h-3zM779 1254h3v6h-3zM782 1254h3v8h-3zM785 1257h3v8h-3zM788 1257h2v11h-2zM790 1260h3v8h-3zM793 1262h3v9h-3zM796 1265h3v9h-3zM799 1265h3v12h-3zM802 1268h3v12h-3zM805 1271h3v9h-3zM808 1274h3v9h-3zM811 1277h3v6h-3zM814 1277h3v6h-3zM817 1277h3v6h-3zM820 1277h3v6h-3zM823 1277h3v6h-3zM826 1277h2v6h-2zM828 1274h3v9h-3zM831 1274h3v9h-3zM834 1274h3v6h-3zM837 1274h3v6h-3zM840 1274h3v6h-3zM843 1274h3v6h-3zM846 1274h3v6h-3zM849 1274h3v6h-3zM852 1274h3v9h-3zM855 1277h3v6h-3zM858 1277h3v6h-3zM861 1277h2v6h-2zM863 1277h3v6h-3zM866 1277h3v9h-3zM869 1280h3v6h-3zM872 1277h3v9h-3zM875 1277h3v12h-3zM878 1280h3v9h-3zM881 1280h3v9h-3zM884 1280h3v9h-3zM887 1280h3v9h-3zM890 1280h3v9h-3zM893 1280h3v12h-3zM896 1283h3v9h-3zM899 1283h2v9h-2zM901 1283h3v9h-3zM904 1283h3v9h-3zM907 1283h3v9h-3zM910 1283h3v9h-3zM913 1283h3v9h-3zM916 1283h3v9h-3zM919 1283h3v9h-3zM922 1283h3v9h-3zM925 1283h3v9h-3zM928 1283h3v9h-3zM931 1283h3v9h-3zM934 1283h2v9h-2zM936 1283h3v9h-3zM939 1283h3v9h-3zM942 1283h3v12h-3zM945 1286h3v9h-3zM948 1286h3v9h-3zM951 1286h3v9h-3zM954 1286h3v9h-3zM957 1286h3v9h-3zM960 1286h3v9h-3zM963 1286h3v9h-3zM966 1289h3v6h-3zM969 1289h3v6h-3zM972 1289h2v6h-2zM974 1289h3v6h-3zM977 1289h3v6h-3zM980 1289h3v6h-3zM983 1289h3v6h-3zM986 1289h3v6h-3zM989 1286h3v9h-3zM992 1286h3v9h-3zM995 1286h3v9h-3zM998 1286h3v9h-3zM1001 1286h3v9h-3zM1004 1286h3v9h-3zM1007 1289h3v6h-3zM1010 1289h2v6h-2zM1012 1289h3v6h-3zM1015 1289h3v6h-3zM1018 1289h3v6h-3zM1021 1289h3v6h-3zM1024 1289h3v6h-3zM1027 1289h3v6h-3zM1030 1289h3v6h-3zM1033 1286h3v9h-3zM1036 1286h3v9h-3zM1039 1286h3v9h-3zM1042 1286h3v9h-3zM1045 1286h2v9h-2zM1047 1286h3v9h-3zM1050 1286h3v9h-3zM1053 1283h3v12h-3zM1056 1283h3v9h-3zM1059 1283h3v9h-3zM1062 1283h3v9h-3zM1065 1283h3v9h-3zM1068 1283h3v9h-3zM1071 1283h3v9h-3zM1074 1283h3v9h-3zM1077 1283h3v9h-3zM1080 1283h3v9h-3zM1083 1283h2v9h-2zM1085 1283h3v9h-3zM1088 1283h3v9h-3zM1091 1283h3v9h-3zM1094 1283h3v9h-3zM1097 1283h3v9h-3zM1100 1283h3v9h-3zM1103 1283h3v9h-3zM1106 1283h3v9h-3zM1109 1283h3v9h-3zM1112 1283h3v9h-3zM1115 1283h3v9h-3zM1118 1283h3v9h-3zM1121 1283h2v9h-2zM1123 1286h3v9h-3zM1126 1286h3v9h-3zM1129 1286h3v9h-3zM1132 1286h3v9h-3zM1135 1286h3v9h-3zM1138 1286h3v9h-3zM1141 1286h3v9h-3zM1144 1286h3v9h-3zM1147 1286h3v9h-3zM1150 1286h3v9h-3zM1153 1286h3v9h-3zM1156 1286h2v9h-2zM1158 1286h3v9h-3zM1161 1289h3v6h-3zM1164 1289h3v6h-3zM1167 1289h3v6h-3zM1170 1289h3v6h-3zM1173 1289h3v6h-3zM1176 1289h3v6h-3zM1179 1289h3v6h-3zM1182 1289h3v6h-3zM1185 1289h3v6h-3zM1188 1286h3v9h-3zM1191 1286h3v9h-3zM1194 1286h2v6h-2zM1196 1286h3v6h-3zM1199 1283h3v9h-3zM1202 1283h3v6h-3zM1205 1283h3v6h-3zM1208 1280h3v9h-3zM1211 1280h3v9h-3zM1214 1280h3v9h-3zM1217 1280h3v9h-3zM1220 1280h3v9h-3zM1223 1280h3v9h-3zM1226 1280h3v9h-3zM1229 1280h3v9h-3zM1232 1280h2v9h-2zM1234 1280h3v9h-3zM1237 1280h3v9h-3zM1240 1280h3v9h-3zM1243 1280h3v9h-3zM1246 1280h3v9h-3zM1249 1280h3v9h-3zM1252 1280h3v9h-3zM1255 1280h3v9h-3zM1258 1277h3v9h-3zM1261 1277h3v9h-3zM1264 1277h3v9h-3zM1267 1277h2v9h-2zM1269 1277h3v9h-3zM1272 1277h3v9h-3zM1275 1277h3v9h-3zM1278 1277h3v9h-3zM1281 1277h3v9h-3zM1284 1277h3v12h-3zM1287 1280h3v9h-3zM1290 1280h3v9h-3zM1293 1280h3v9h-3zM1296 1280h3v9h-3zM1299 1280h3v9h-3zM1302 1280h3v12h-3zM1305 1283h2v9h-2zM1307 1283h3v9h-3zM1310 1283h3v9h-3zM1313 1283h3v9h-3zM1316 1283h3v9h-3zM1319 1283h3v9h-3zM1322 1283h3v9h-3zM1325 1283h3v9h-3zM1328 1283h3v9h-3zM1331 1283h3v9h-3zM1334 1283h3v9h-3zM1337 1283h3v9h-3zM1340 1283h3v9h-3zM1343 1283h2v9h-2zM1345 1286h3v9h-3zM1348 1286h3v9h-3zM1351 1286h3v9h-3zM1354 1286h3v9h-3zM1357 1286h3v9h-3zM1360 1286h3v9h-3zM1363 1286h3v9h-3zM1366 1286h3v9h-3zM1369 1286h3v9h-3zM1372 1286h3v9h-3zM1375 1286h3v9h-3zM1378 1286h2v9h-2zM1380 1286h3v9h-3zM1383 1289h3v6h-3zM1386 1289h3v6h-3zM1389 1289h3v6h-3zM1392 1289h3v6h-3zM1395 1289h3v6h-3zM1398 1289h3v6h-3zM1401 1289h3v6h-3zM1404 1289h3v6h-3zM1407 1289h3v6h-3zM1410 1289h3v6h-3zM1413 1289h3v6h-3zM1416 1289h2v6h-2zM1418 1289h3v6h-3zM1421 1289h3v6h-3zM1424 1289h3v6h-3zM1427 1289h3v6h-3zM1430 1289h3v6h-3zM1433 1289h3v6h-3zM1436 1289h3v6h-3zM1439 1289h3v6h-3zM1442 1289h3v6h-3zM1445 1289h3v6h-3zM1448 1289h3v6h-3zM1451 1289h3v6h-3zM1454 1289h2v6h-2zM1456 1289h3v6h-3zM1459 1289h3v6h-3zM1462 1289h3v6h-3zM1465 1289h3v6h-3zM1468 1289h3v6h-3zM1471 1289h3v6h-3zM1474 1289h3v6h-3zM1477 1289h3v6h-3zM1480 1289h3v6h-3zM1483 1289h3v6h-3zM1486 1289h3v6h-3zM1489 1289h2v6h-2zM1491 1289h3v6h-3zM1494 1289h3v6h-3zM1497 1289h3v6h-3zM1500 1286h3v9h-3zM1503 1286h3v9h-3zM1506 1286h3v9h-3zM1509 1286h3v9h-3zM1512 1286h3v9h-3zM1515 1286h3v9h-3zM1518 1286h3v9h-3zM1521 1286h3v9h-3zM1524 1286h3v9h-3zM1527 1286h2v9h-2zM1529 1286h3v9h-3zM1532 1286h3v9h-3zM1535 1286h3v9h-3zM1538 1286h3v9h-3zM1541 1286h3v9h-3zM1544 1286h3v9h-3zM1547 1286h3v9h-3zM1550 1286h3v9h-3zM1553 1286h3v9h-3zM1556 1286h3v9h-3zM1559 1283h3v12h-3zM1562 1283h3v9h-3zM1565 1283h2v9h-2zM1567 1283h3v9h-3zM1570 1283h3v9h-3zM1573 1283h3v9h-3zM1576 1283h3v9h-3zM1579 1283h3v9h-3zM1582 1283h3v9h-3zM1585 1283h3v9h-3zM1588 1286h3v6h-3zM1591 1286h3v6h-3zM1594 1286h3v6h-3zM1597 1286h3v6h-3zM1600 1286h2v9h-2zM1602 1289h3v6h-3zM1605 1289h3v6h-3zM1608 1289h3v6h-3zM1611 1289h3v6h-3zM1614 1289h3v6h-3zM1617 1289h3v6h-3zM1620 1289h3v6h-3zM1623 1289h3v6h-3zM1626 1289h3v6h-3zM1629 1289h3v6h-3zM1632 1289h3v6h-3zM1635 1289h3v6h-3zM1638 1289h2v6h-2zM1640 1289h3v6h-3zM1643 1289h3v6h-3zM1646 1289h3v6h-3zM1649 1286h3v9h-3zM1652 1286h3v9h-3zM1655 1286h3v9h-3zM1658 1286h3v9h-3zM1661 1286h3v9h-3zM1664 1286h3v9h-3zM1667 1286h3v9h-3zM1670 1286h3v9h-3zM1673 1286h3v9h-3zM1676 1286h2v9h-2zM1678 1286h3v9h-3zM1681 1286h3v9h-3zM1684 1286h3v9h-3zM1687 1286h3v9h-3zM1690 1286h3v9h-3zM1693 1286h3v9h-3zM1696 1289h3v6h-3zM1699 1289h3v6h-3zM1702 1289h3v6h-3zM1705 1289h3v6h-3zM1708 1289h3v6h-3zM1711 1289h2v6h-2zM1713 1289h3v6h-3zM1716 1289h3v6h-3zM1719 1289h3v6h-3zM1722 1289h3v6h-3zM1725 1289h3v6h-3zM1728 1289h3v6h-3zM1731 1289h3v6h-3zM1734 1289h3v6h-3zM1737 1289h3v6h-3zM1740 1289h3v6h-3zM1743 1286h3v9h-3zM1746 1286h3v9h-3zM1749 1286h2v9h-2zM1751 1286h3v9h-3zM1754 1286h3v9h-3zM1757 1286h3v9h-3zM1760 1286h3v9h-3zM1763 1286h3v9h-3zM1766 1286h3v9h-3zM1769 1286h3v9h-3zM1772 1286h3v9h-3zM1775 1286h3v9h-3zM1778 1286h3v9h-3zM1781 1286h3v9h-3zM1784 1286h3v9h-3zM1787 1286h2v9h-2zM1789 1286h3v9h-3zM1792 1286h3v9h-3zM1795 1286h3v9h-3zM1798 1286h3v9h-3zM1801 1286h3v9h-3zM1804 1286h3v9h-3zM1807 1286h3v9h-3zM1810 1286h3v9h-3zM1813 1283h3v12h-3zM1816 1283h3v9h-3zM1819 1283h3v9h-3zM1822 1283h2v9h-2zM1824 1283h3v9h-3zM1827 1283h3v9h-3zM1830 1283h3v9h-3zM1833 1283h3v9h-3zM1836 1283h3v9h-3zM1839 1283h3v12h-3zM1842 1286h3v9h-3zM1845 1286h3v9h-3zM1848 1286h3v9h-3zM1851 1286h3v9h-3zM1854 1286h3v9h-3zM1857 1289h3v6h-3zM1860 1289h2v6h-2zM1862 1289h3v6h-3zM1865 1289h3v6h-3zM1868 1289h3v6h-3zM1871 1289h3v6h-3zM1874 1289h3v6h-3zM1877 1289h3v6h-3zM1880 1289h3v6h-3zM1883 1289h3v6h-3zM1886 1289h3v6h-3zM1889 1289h3v6h-3zM1892 1289h3v6h-3zM1895 1289h3v6h-3zM1898 1289h2v6h-2zM1900 1289h3v6h-3zM1903 1289h3v6h-3zM1906 1289h3v6h-3zM1909 1289h3v6h-3zM1912 1289h3v6h-3zM1915 1289h3v6h-3zM1918 1289h3v6h-3zM1921 1289h3v6h-3zM1924 1289h3v6h-3zM1927 1289h3v6h-3zM1930 1289h3v6h-3zM1933 1289h2v6h-2zM1935 1289h3v6h-3zM1938 1289h3v6h-3zM1941 1289h3v6h-3zM1944 1289h3v6h-3zM1947 1289h3v6h-3zM1950 1289h3v6h-3zM1953 1289h3v6h-3zM1956 1289h3v6h-3zM1959 1289h3v6h-3zM1962 1289h3v6h-3zM1965 1289h3v6h-3zM1968 1289h3v6h-3zM1971 1289h2v6h-2zM1973 1289h3v6h-3zM1976 1289h3v6h-3zM1979 1289h3v6h-3zM1982 1289h3v6h-3z"/>
<g shape-rendering="crispEdges">
<rect x="230" y="126" width="1755" height="3" fill="#4d4d4d"/>
<rect x="227" y="126" width="3" height="3" fill="#c8c8c8"/>
<rect x="230" y="129" width="1755" height="3" fill="#8c8c8c"/>
<rect x="227" y="1295" width="1758" height="3" fill="#5c5c5c"/>
<rect x="227" y="1298" width="1758" height="3" fill="#808080"/>
<rect x="227" y="129" width="3" height="1169" fill="#000"/>
<rect x="1982" y="129" width="3" height="1169" fill="#111"/>
<rect x="1985" y="129" width="3" height="1172" fill="#c6c6c6"/>
<rect x="1985" y="126" width="3" height="3" fill="#e0e0e0"/>
<path fill="#7a0000" d="M256 1295h3v3h-3zM259 1295h3v3h-3zM262 1295h3v3h-3zM963 1295h3v3h-3zM966 1295h3v3h-3zM969 1295h3v3h-3zM972 1295h2v3h-2zM974 1295h3v3h-3zM977 1295h3v3h-3zM980 1295h3v3h-3zM983 1295h3v3h-3zM986 1295h3v3h-3zM989 1295h3v3h-3zM1004 1295h3v3h-3zM1007 1295h3v3h-3zM1010 1295h2v3h-2zM1012 1295h3v3h-3zM1015 1295h3v3h-3zM1018 1295h3v3h-3zM1021 1295h3v3h-3zM1024 1295h3v3h-3zM1027 1295h3v3h-3zM1030 1295h3v3h-3zM1161 1295h3v3h-3zM1164 1295h3v3h-3zM1167 1295h3v3h-3zM1170 1295h3v3h-3zM1173 1295h3v3h-3zM1176 1295h3v3h-3zM1179 1295h3v3h-3zM1182 1295h3v3h-3zM1383 1295h3v3h-3zM1386 1295h3v3h-3zM1389 1295h3v3h-3zM1392 1295h3v3h-3zM1395 1295h3v3h-3zM1398 1295h3v3h-3zM1401 1295h3v3h-3zM1404 1295h3v3h-3zM1407 1295h3v3h-3zM1410 1295h3v3h-3zM1413 1295h3v3h-3zM1416 1295h2v3h-2zM1418 1295h3v3h-3zM1421 1295h3v3h-3zM1424 1295h3v3h-3zM1427 1295h3v3h-3zM1430 1295h3v3h-3zM1433 1295h3v3h-3zM1436 1295h3v3h-3zM1439 1295h3v3h-3zM1442 1295h3v3h-3zM1445 1295h3v3h-3zM1448 1295h3v3h-3zM1451 1295h3v3h-3zM1454 1295h2v3h-2zM1456 1295h3v3h-3zM1459 1295h3v3h-3zM1462 1295h3v3h-3zM1465 1295h3v3h-3zM1468 1295h3v3h-3zM1471 1295h3v3h-3zM1474 1295h3v3h-3zM1477 1295h3v3h-3zM1480 1295h3v3h-3zM1483 1295h3v3h-3zM1486 1295h3v3h-3zM1489 1295h2v3h-2zM1491 1295h3v3h-3zM1494 1295h3v3h-3zM1497 1295h3v3h-3zM1611 1295h3v3h-3zM1614 1295h3v3h-3zM1617 1295h3v3h-3zM1620 1295h3v3h-3zM1623 1295h3v3h-3zM1626 1295h3v3h-3zM1629 1295h3v3h-3zM1632 1295h3v3h-3zM1635 1295h3v3h-3zM1638 1295h2v3h-2zM1640 1295h3v3h-3zM1643 1295h3v3h-3zM1646 1295h3v3h-3zM1693 1295h3v3h-3zM1696 1295h3v3h-3zM1699 1295h3v3h-3zM1702 1295h3v3h-3zM1705 1295h3v3h-3zM1708 1295h3v3h-3zM1711 1295h2v3h-2zM1713 1295h3v3h-3zM1716 1295h3v3h-3zM1719 1295h3v3h-3zM1722 1295h3v3h-3zM1725 1295h3v3h-3zM1728 1295h3v3h-3zM1731 1295h3v3h-3zM1734 1295h3v3h-3zM1737 1295h3v3h-3zM1740 1295h3v3h-3zM1743 1295h3v3h-3zM1857 1295h3v3h-3zM1860 1295h2v3h-2zM1862 1295h3v3h-3zM1865 1295h3v3h-3zM1868 1295h3v3h-3zM1871 1295h3v3h-3zM1874 1295h3v3h-3zM1877 1295h3v3h-3zM1880 1295h3v3h-3zM1883 1295h3v3h-3zM1886 1295h3v3h-3zM1889 1295h3v3h-3zM1892 1295h3v3h-3zM1895 1295h3v3h-3zM1898 1295h2v3h-2zM1900 1295h3v3h-3zM1903 1295h3v3h-3zM1906 1295h3v3h-3zM1909 1295h3v3h-3zM1912 1295h3v3h-3zM1915 1295h3v3h-3zM1918 1295h3v3h-3zM1921 1295h3v3h-3zM1924 1295h3v3h-3zM1927 1295h3v3h-3zM1930 1295h3v3h-3zM1933 1295h2v3h-2zM1935 1295h3v3h-3zM1938 1295h3v3h-3zM1941 1295h3v3h-3zM1944 1295h3v3h-3zM1947 1295h3v3h-3zM1950 1295h3v3h-3zM1953 1295h3v3h-3zM1956 1295h3v3h-3zM1959 1295h3v3h-3zM1962 1295h3v3h-3zM1965 1295h3v3h-3zM1968 1295h3v3h-3zM1971 1295h2v3h-2zM1973 1295h3v3h-3zM1976 1295h3v3h-3zM1979 1295h3v3h-3zM1982 1295h3v3h-3z"/>
<rect x="577.8" y="129" width="3" height="3" fill="#000"/>
<rect x="928.9" y="129" width="3" height="3" fill="#000"/>
<rect x="1279.9" y="129" width="3" height="3" fill="#000"/>
<rect x="1631.0" y="129" width="3" height="3" fill="#000"/>
<rect x="230" y="129" width="15" height="3" fill="#000"/>
<rect x="1967" y="129" width="15" height="3" fill="#000"/>
</g>
<g class="serif">
<text transform="translate(207.5,155.3) scale(1,1.050)" font-size="69" text-anchor="end" fill="#000">2.5</text>
<text transform="translate(207.5,387.8) scale(1,1.050)" font-size="69" text-anchor="end" fill="#000">2</text>
<text transform="translate(207.5,621.4) scale(1,1.050)" font-size="69" text-anchor="end" fill="#000">1.5</text>
<text transform="translate(207.5,854.9) scale(1,1.050)" font-size="69" text-anchor="end" fill="#000">1</text>
<text transform="translate(207.5,1088.5) scale(1,1.050)" font-size="69" text-anchor="end" fill="#000">0.5</text>
<text transform="translate(207.5,1322.0) scale(1,1.050)" font-size="69" text-anchor="end" fill="#000">0</text>
<text transform="translate(228.2,1380.0) scale(1,1.050)" font-size="69" text-anchor="middle" fill="#000">0</text>
<text transform="translate(579.3,1380.0) scale(1,1.050)" font-size="69" text-anchor="middle" fill="#000">0.2</text>
<text transform="translate(930.4,1380.0) scale(1,1.050)" font-size="69" text-anchor="middle" fill="#000">0.4</text>
<text transform="translate(1281.4,1380.0) scale(1,1.050)" font-size="69" text-anchor="middle" fill="#000">0.6</text>
<text transform="translate(1632.5,1380.0) scale(1,1.050)" font-size="69" text-anchor="middle" fill="#000">0.8</text>
<text transform="translate(1983.6,1380.0) scale(1,1.050)" font-size="69" text-anchor="middle" fill="#000">1</text>
<text transform="translate(228.5,101.0) scale(1,1.030)" font-size="68" text-anchor="start" fill="#000">x 10</text>
<text transform="translate(347.5,58.0) scale(1,1.000)" font-size="46" text-anchor="start" fill="#000">4</text>
<text transform="translate(1102.5,1466.5) scale(1,1.080)" font-size="68.5" text-anchor="middle" fill="#1a1a1a">Frequency</text>
<text font-size="69.5" fill="#1a1a1a" text-anchor="middle" transform="translate(77.0,714.5) rotate(-90)">Aplitude</text>
<text transform="translate(991.5,1579.5) scale(1,1.000)" font-size="86" text-anchor="middle" fill="#000">(<tspan font-weight="bold">b</tspan>)</text>
</g>
<rect x="1220.4" y="165.2" width="732.6" height="196.0" fill="#fff" stroke="#000" stroke-width="3.2"/>
<rect x="1258" y="218" width="198" height="3.2" fill="#000"/>
<rect x="1258" y="300.8" width="198" height="6.6" fill="#ff0000"/>
<g class="serif" font-size="68" fill="#000">
<text x="1476.0" y="244.0" textLength="301.0" lengthAdjust="spacingAndGlyphs">Sanmpling</text>
<text x="1475.0" y="332.0" textLength="447.0" lengthAdjust="spacingAndGlyphs">Lower sampling</text>
</g>
<rect x="294.8" y="234.8" width="376.5" height="182.0" fill="#ffffee" stroke="#cfcfcf" stroke-width="3"/>
<rect x="622.9" y="969.6" width="288.8" height="181.0" fill="#ffffee" stroke="#cfcfcf" stroke-width="3"/>
<polygon fill="#ffffe0" points="242.5,177.4 293.9,177.4 293.9,183.9 300.4,183.9 300.4,237.7 293.9,237.7 293.9,244.2 242.5,244.2 242.5,237.7 236.0,237.7 236.0,183.9 242.5,183.9"/>
<rect x="248.0" y="190.4" width="40.4" height="40.8" fill="#000"/>
<g class="sans" font-size="60.5" fill="#000" stroke="#ffffee" stroke-width="0.6" paint-order="fill stroke">
<text x="321.0" y="314.0" textLength="266.0" lengthAdjust="spacingAndGlyphs">X: 0.02344</text>
<text x="321.0" y="378.5" textLength="325.0" lengthAdjust="spacingAndGlyphs">Y: 2.326e+04</text>
</g>
<polygon fill="#ffffe0" points="571.9,1143.1 623.3,1143.1 623.3,1149.6 629.8,1149.6 629.8,1203.4 623.3,1203.4 623.3,1209.9 571.9,1209.9 571.9,1203.4 565.4,1203.4 565.4,1149.6 571.9,1149.6"/>
<rect x="577.4" y="1156.1" width="40.4" height="40.8" fill="#000"/>
<g class="sans" font-size="60.5" fill="#000" stroke="#ffffee" stroke-width="0.6" paint-order="fill stroke">
<text x="648.0" y="1047.5" textLength="237.0" lengthAdjust="spacingAndGlyphs">X: 0.2105</text>
<text x="648.0" y="1112.0" textLength="186.0" lengthAdjust="spacingAndGlyphs">Y: 2557</text>
</g>
</svg>
</body></html>
